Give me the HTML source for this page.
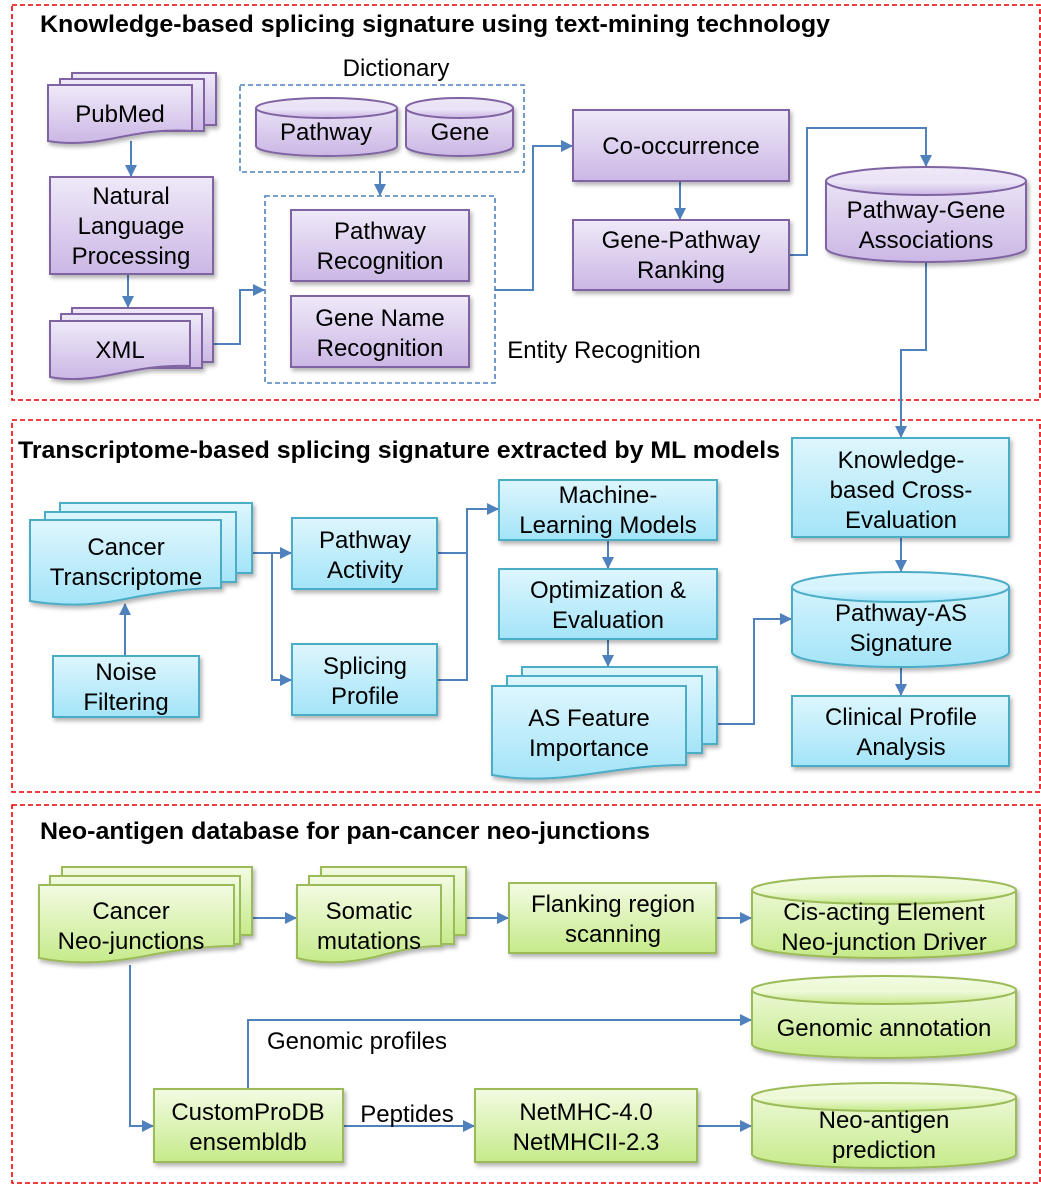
<!DOCTYPE html>
<html><head><meta charset="utf-8"><style>
html,body{margin:0;padding:0;background:#fff}
svg{display:block}
text{font-family:"Liberation Sans",Arial,sans-serif;fill:#000}
.t{font-size:24px;text-anchor:middle}
.h{font-size:24px;font-weight:bold}
.p{stroke:#8064a2;stroke-width:2;fill:url(#gp)}
.b{stroke:#4bacc6;stroke-width:2;fill:url(#gb)}
.g{stroke:#9bbb59;stroke-width:2;fill:url(#gg)}
.c{stroke:#4f81bd;stroke-width:2;fill:none;marker-end:url(#ar)}
.cn{stroke:#4f81bd;stroke-width:2;fill:none}
.sec{fill:none;stroke:#e00;stroke-width:1.6;stroke-dasharray:5,3}
.dsh{fill:none;stroke:#4f81bd;stroke-width:1.6;stroke-dasharray:5,3}
</style></head><body>
<svg width="1041" height="1189" viewBox="0 0 1041 1189" xmlns="http://www.w3.org/2000/svg">
<defs>
<linearGradient id="gp" x1="0" y1="0" x2="0" y2="1"><stop offset="0" stop-color="#efe9f8"/><stop offset="1" stop-color="#cbb7e5"/></linearGradient>
<linearGradient id="gb" x1="0" y1="0" x2="0" y2="1"><stop offset="0" stop-color="#def6fd"/><stop offset="1" stop-color="#a3e4f8"/></linearGradient>
<linearGradient id="gg" x1="0" y1="0" x2="0" y2="1"><stop offset="0" stop-color="#f3fbe3"/><stop offset="1" stop-color="#c6ea8a"/></linearGradient>
<marker id="ar" markerWidth="12" markerHeight="12" refX="11" refY="6" orient="auto" markerUnits="userSpaceOnUse"><path d="M0,0 L12,6 L0,12 Z" fill="#4f81bd"/></marker>
<filter id="sh" x="-10%" y="-10%" width="130%" height="140%"><feDropShadow dx="2" dy="3" stdDeviation="2" flood-color="#000" flood-opacity="0.3"/></filter>
</defs>

<rect class="sec" x="12" y="5" width="1028" height="395"/>
<rect class="sec" x="12" y="420" width="1028" height="372"/>
<rect class="sec" x="12" y="805" width="1028" height="378"/>
<text class="h" x="40" y="32" textLength="790" lengthAdjust="spacingAndGlyphs">Knowledge-based splicing signature using text-mining technology</text>
<text class="h" x="18" y="458" textLength="762" lengthAdjust="spacingAndGlyphs">Transcriptome-based splicing signature extracted by ML models</text>
<text class="h" x="40" y="839" textLength="610" lengthAdjust="spacingAndGlyphs">Neo-antigen database for pan-cancer neo-junctions</text>

<path class="c" d="M131,141 V176"/>
<path class="c" d="M128,274 V307"/>
<path class="c" d="M213,344 H240 V290 H264"/>
<path class="c" d="M380,172 V195"/>
<path class="c" d="M495,290 H533 V146 H572"/>
<path class="c" d="M680,181 V219"/>
<path class="c" d="M789,255 H807 V128 H926 V166"/>
<path class="c" d="M926,262 V350 H901 V437"/>

<g filter="url(#sh)">
<rect class="p" x="72" y="73" width="144" height="52"/>
<rect class="p" x="60" y="79" width="144" height="52"/>
<path class="p" d="M48,85 H192 V131 C160,129 140,133 110,139 C85,144 65,144 48,141 Z"/>
<rect class="p" x="50" y="177" width="163" height="97"/>
<rect class="p" x="72" y="308" width="141" height="54"/>
<rect class="p" x="61" y="314" width="141" height="54"/>
<path class="p" d="M50,321 H190 V366 C160,365 140,369 110,375 C85,380 65,380 50,377 Z"/>
<path class="p" d="M256,108 V146 A70.5,10 0 0 0 397,146 V108 A70.5,10 0 0 0 256,108 Z"/>
<path class="p" d="M256,108 A70.5,10 0 0 0 397,108"/>
<path class="p" d="M406,108 V146 A53.5,10 0 0 0 513,146 V108 A53.5,10 0 0 0 406,108 Z"/>
<path class="p" d="M406,108 A53.5,10 0 0 0 513,108"/>
<rect class="p" x="291" y="210" width="178" height="71"/>
<rect class="p" x="291" y="296" width="178" height="71"/>
<rect class="p" x="573" y="110" width="216" height="71"/>
<rect class="p" x="573" y="220" width="216" height="70"/>
<path class="p" d="M826,181 V248 A100,14 0 0 0 1026,248 V181 A100,14 0 0 0 826,181 Z"/>
<path class="p" d="M826,181 A100,14 0 0 0 1026,181"/>
</g>
<rect class="dsh" x="240" y="85" width="284" height="87"/>
<rect class="dsh" x="265" y="196" width="230" height="187"/>
<text class="t" x="396" y="76">Dictionary</text>
<text class="t" x="120" y="122">PubMed</text>
<text class="t" x="131" y="204">Natural</text>
<text class="t" x="131" y="234">Language</text>
<text class="t" x="131" y="264">Processing</text>
<text class="t" x="120" y="358">XML</text>
<text class="t" x="326" y="140">Pathway</text>
<text class="t" x="460" y="140">Gene</text>
<text class="t" x="380" y="239">Pathway</text>
<text class="t" x="380" y="269">Recognition</text>
<text class="t" x="380" y="326">Gene Name</text>
<text class="t" x="380" y="356">Recognition</text>
<text class="t" x="604" y="358">Entity Recognition</text>
<text class="t" x="681" y="154">Co-occurrence</text>
<text class="t" x="681" y="248">Gene-Pathway</text>
<text class="t" x="681" y="278">Ranking</text>
<text class="t" x="926" y="218">Pathway-Gene</text>
<text class="t" x="926" y="248">Associations</text>

<path class="c" d="M125,655 V604"/>
<path class="c" d="M252,553 H291"/>
<path class="c" d="M272,553 V680 H291"/>
<path class="cn" d="M437,553 H467"/>
<path class="c" d="M437,680 H467 V509 H498"/>
<path class="c" d="M608,540 V568"/>
<path class="c" d="M608,639 V666"/>
<path class="c" d="M717,724 H754 V619 H791"/>
<path class="c" d="M901,537 V571"/>
<path class="c" d="M901,667 V695"/>

<g filter="url(#sh)">
<rect class="b" x="60" y="503" width="192" height="70"/>
<rect class="b" x="45" y="512" width="191" height="70"/>
<path class="b" d="M30,520 H221 V588 C190,588 160,592 120,600 C90,606 60,606 30,601 Z"/>
<rect class="b" x="53" y="656" width="146" height="61"/>
<rect class="b" x="292" y="518" width="145" height="71"/>
<rect class="b" x="292" y="644" width="145" height="71"/>
<rect class="b" x="499" y="480" width="218" height="60"/>
<rect class="b" x="499" y="569" width="218" height="70"/>
<rect class="b" x="522" y="667" width="195" height="77"/>
<rect class="b" x="507" y="676" width="195" height="77"/>
<path class="b" d="M492,686 H686 V765 C655,765 630,768 590,774 C550,780 520,780 492,775 Z"/>
<rect class="b" x="792" y="438" width="217" height="99"/>
<path class="b" d="M792,587 V652 A108.5,15 0 0 0 1009,652 V587 A108.5,15 0 0 0 792,587 Z"/>
<path class="b" d="M792,587 A108.5,15 0 0 0 1009,587"/>
<rect class="b" x="792" y="696" width="217" height="70"/>
</g>
<text class="t" x="126" y="555">Cancer</text>
<text class="t" x="126" y="585">Transcriptome</text>
<text class="t" x="126" y="680">Noise</text>
<text class="t" x="126" y="710">Filtering</text>
<text class="t" x="365" y="548">Pathway</text>
<text class="t" x="365" y="578">Activity</text>
<text class="t" x="365" y="674">Splicing</text>
<text class="t" x="365" y="704">Profile</text>
<text class="t" x="608" y="503">Machine-</text>
<text class="t" x="608" y="533">Learning Models</text>
<text class="t" x="608" y="598">Optimization &amp;</text>
<text class="t" x="608" y="628">Evaluation</text>
<text class="t" x="589" y="726">AS Feature</text>
<text class="t" x="589" y="756">Importance</text>
<text class="t" x="901" y="468">Knowledge-</text>
<text class="t" x="901" y="498">based Cross-</text>
<text class="t" x="901" y="528">Evaluation</text>
<text class="t" x="901" y="621">Pathway-AS</text>
<text class="t" x="901" y="651">Signature</text>
<text class="t" x="901" y="725">Clinical Profile</text>
<text class="t" x="901" y="755">Analysis</text>

<path class="c" d="M252,918 H296"/>
<path class="c" d="M466,918 H508"/>
<path class="c" d="M716,918 H751"/>
<path class="c" d="M130,965 V1126 H153"/>
<path class="c" d="M248,1089 V1020 H751"/>
<path class="c" d="M343,1126 H474"/>
<path class="c" d="M697,1126 H751"/>

<g filter="url(#sh)">
<rect class="g" x="62" y="867" width="190" height="68"/>
<rect class="g" x="50" y="876" width="190" height="68"/>
<path class="g" d="M39,885 H234 V946 C205,946 175,950 140,957 C100,964 70,964 39,958 Z"/>
<rect class="g" x="321" y="867" width="145" height="68"/>
<rect class="g" x="309" y="876" width="145" height="68"/>
<path class="g" d="M297,885 H441 V946 C420,946 400,950 375,957 C345,964 320,964 297,958 Z"/>
<rect class="g" x="509" y="883" width="207" height="70"/>
<path class="g" d="M752,890 V944 A132,14 0 0 0 1016,944 V890 A132,14 0 0 0 752,890 Z"/>
<path class="g" d="M752,890 A132,14 0 0 0 1016,890"/>
<path class="g" d="M752,990 V1044 A132,14 0 0 0 1016,1044 V990 A132,14 0 0 0 752,990 Z"/>
<path class="g" d="M752,990 A132,14 0 0 0 1016,990"/>
<path class="g" d="M752,1097 V1154 A132,14 0 0 0 1016,1154 V1097 A132,14 0 0 0 752,1097 Z"/>
<path class="g" d="M752,1097 A132,14 0 0 0 1016,1097"/>
<rect class="g" x="154" y="1089" width="189" height="73"/>
<rect class="g" x="475" y="1089" width="222" height="73"/>
</g>
<text class="t" x="131" y="919">Cancer</text>
<text class="t" x="131" y="949">Neo-junctions</text>
<text class="t" x="369" y="919">Somatic</text>
<text class="t" x="369" y="949">mutations</text>
<text class="t" x="613" y="912">Flanking region</text>
<text class="t" x="613" y="942">scanning</text>
<text class="t" x="884" y="920">Cis-acting Element</text>
<text class="t" x="884" y="950">Neo-junction Driver</text>
<text class="t" x="884" y="1036">Genomic annotation</text>
<text class="t" x="884" y="1128">Neo-antigen</text>
<text class="t" x="884" y="1158">prediction</text>
<text class="t" x="357" y="1049">Genomic profiles</text>
<text class="t" x="407" y="1122">Peptides</text>
<text class="t" x="248" y="1120">CustomProDB</text>
<text class="t" x="248" y="1150">ensembldb</text>
<text class="t" x="586" y="1120">NetMHC-4.0</text>
<text class="t" x="586" y="1150">NetMHCII-2.3</text>
</svg>
</body></html>
